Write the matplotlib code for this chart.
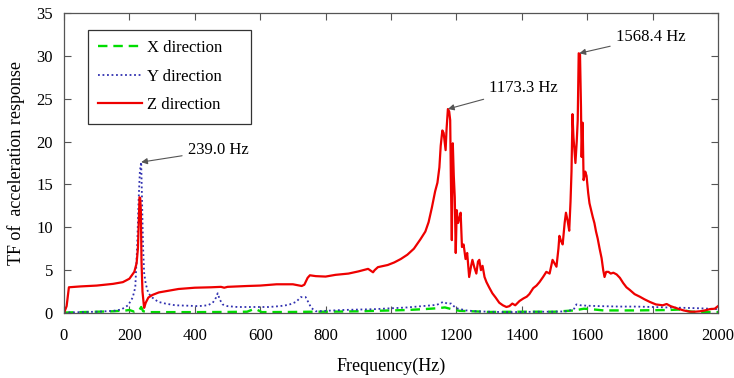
import matplotlib
matplotlib.use("Agg")
import matplotlib.pyplot as plt
from matplotlib.patches import Rectangle

# ---- data ----
z_freq = [0, 8, 15, 50, 100, 150, 180, 200, 215, 222, 226, 229, 231, 233, 235, 237, 240, 245, 250, 258,
          270, 290, 320, 350, 400, 450, 480, 490, 500, 560, 600, 650, 700, 727, 735, 745, 752, 770, 800, 830,
          870, 900, 930, 945, 950, 960, 990, 1010, 1030, 1050, 1070, 1090, 1105, 1115, 1125, 1135, 1142, 1148,
          1152, 1157, 1161, 1164, 1167, 1170, 1174, 1178, 1181, 1183, 1186, 1189, 1192, 1195, 1198, 1201, 1205,
          1209, 1213, 1217, 1222, 1228, 1233, 1239, 1245, 1249, 1255, 1261, 1266, 1270, 1275, 1280, 1286, 1292,
          1300, 1310, 1320, 1331, 1342, 1353, 1362, 1371, 1380, 1393, 1405, 1415, 1423, 1435, 1445, 1454, 1465,
          1475, 1485, 1494, 1500, 1506, 1512, 1515, 1520, 1525, 1531, 1535, 1540, 1545, 1549, 1552, 1555, 1558,
          1561, 1564, 1568, 1571, 1574, 1578, 1581, 1583, 1586, 1589, 1594, 1598, 1603, 1607, 1612, 1617, 1622,
          1627, 1632, 1638, 1644, 1649, 1653, 1658, 1665, 1672, 1680, 1690, 1700, 1710, 1720, 1730, 1745, 1761,
          1775, 1791, 1810, 1831, 1843, 1855, 1874, 1895, 1914, 1930, 1945, 1960, 1975, 1990, 2000]
z_val = [0.0, 0.8, 3.0, 3.1, 3.2, 3.4, 3.6, 4.0, 4.8, 5.8, 7.5, 11.0, 13.5, 13.4, 12.0, 6.0, 2.5, 0.6, 1.2, 1.8,
         2.1, 2.4, 2.6, 2.8, 2.95, 3.0, 3.05, 2.95, 3.05, 3.15, 3.2, 3.35, 3.35, 3.15, 3.3, 4.1, 4.4, 4.3, 4.25, 4.45,
         4.6, 4.85, 5.15, 4.75, 5.0, 5.35, 5.6, 5.9, 6.3, 6.8, 7.5, 8.6, 9.5, 10.6, 12.3, 14.2, 15.2, 17.0,
         19.5, 21.3, 21.0, 20.0, 19.0, 21.5, 23.8, 23.5, 22.5, 16.0, 8.5, 19.8, 16.0, 13.5, 7.0, 12.0, 10.5,
         11.0, 11.7, 7.7, 8.0, 6.3, 7.0, 4.2, 5.5, 6.2, 5.3, 4.6, 6.0, 6.2, 5.0, 5.5, 4.2, 3.6,
         3.0, 2.3, 1.8, 1.2, 0.9, 0.7, 0.8, 1.1, 0.9, 1.4, 1.7, 1.9, 2.2, 2.9, 3.2, 3.6, 4.2,
         4.8, 4.6, 6.2, 5.8, 5.4, 7.5, 9.0, 8.4, 8.0, 10.5, 11.7, 10.8, 9.6, 13.0, 16.5, 23.2, 20.5,
         19.0, 17.5, 20.0, 22.5, 30.3, 30.2, 24.0, 18.2, 22.2, 15.5, 16.5, 16.0, 14.0, 12.8, 12.0, 11.2, 10.5,
         9.5, 8.7, 7.5, 6.4, 5.0, 4.2, 4.8, 4.8, 4.6, 4.7, 4.5, 4.1, 3.5, 3.0, 2.7, 2.2, 1.9,
         1.6, 1.3, 1.0, 0.9, 1.05, 0.8, 0.55, 0.3, 0.15, 0.15, 0.2, 0.3, 0.45, 0.5, 0.8]

y_freq = [0, 50, 100, 150, 175, 196, 210, 218, 224, 228, 232, 236, 239, 242, 245, 250, 258, 270, 288, 310,
          340, 380, 411, 440, 455, 465, 470, 476, 485, 500, 530, 595, 626, 660, 687, 710, 724, 739, 748, 756,
          770, 800, 850, 900, 950, 1000, 1050, 1080, 1110, 1140, 1160, 1172, 1184, 1192, 1200, 1230, 1260, 1300,
          1350, 1400, 1450, 1500, 1540, 1560, 1567, 1580, 1600, 1640, 1700, 1750, 1800, 1843, 1900, 1945, 2000]
y_val = [0.05, 0.1, 0.15, 0.25, 0.4, 0.9, 1.8, 3.0, 8.0, 13.0, 16.5, 17.6, 12.5, 7.5, 4.7, 3.4, 2.3, 1.8, 1.3, 1.1,
         0.9, 0.85, 0.8, 0.9, 1.2, 1.8, 2.3, 1.6, 1.0, 0.8, 0.7, 0.7, 0.7, 0.8, 0.95, 1.3, 1.85, 1.85, 1.2, 0.6,
         0.2, 0.25, 0.35, 0.4, 0.45, 0.55, 0.65, 0.75, 0.85, 0.95, 1.3, 1.1, 1.1, 0.8, 0.55, 0.3, 0.2, 0.15,
         0.1, 0.12, 0.15, 0.15, 0.2, 0.5, 1.0, 0.9, 0.85, 0.8, 0.75, 0.75, 0.7, 0.65, 0.6, 0.55, 0.45]

x_freq = [0, 50, 100, 150, 190, 200, 215, 230, 236, 242, 260, 300, 400, 500, 560, 580, 592, 605, 700, 760,
          800, 900, 1000, 1050, 1100, 1140, 1165, 1175, 1190, 1210, 1250, 1300, 1400, 1500, 1560, 1590, 1610,
          1650, 1750, 1850, 1880, 1920, 2000]
x_val = [0.05, 0.1, 0.15, 0.2, 0.3, 0.35, 0.15, 0.3, 0.7, 0.2, 0.1, 0.1, 0.1, 0.12, 0.15, 0.45, 0.35, 0.1, 0.12, 0.15,
         0.15, 0.2, 0.3, 0.35, 0.45, 0.55, 0.65, 0.55, 0.4, 0.25, 0.2, 0.12, 0.15, 0.15, 0.3, 0.5, 0.45,
         0.3, 0.3, 0.35, 0.4, 0.15, 0.1]

series_labels = ["X direction", "Y direction", "Z direction"]
peak_labels = ["239.0 Hz", "1173.3 Hz", "1568.4 Hz"]
peak_xy = [(236, 17.6), (1174, 23.8), (1576, 30.3)]
x_ticks = list(range(0, 2001, 200))
y_ticks = list(range(0, 36, 5))

# ---- plot ----
plt.rcParams['font.family'] = ['Liberation Serif', 'DejaVu Serif']
fig = plt.figure(figsize=(7.34, 3.78), dpi=100)
ax = fig.add_axes([64/734, 1-313/378, (718-64)/734, 300/378])

ax.plot(x_freq, x_val, color='#00dd00', lw=1.7, ls=(0, (4, 2.5)), label=series_labels[0])
ax.plot(y_freq, y_val, color='#3030b0', lw=1.3, ls=(0, (1, 1.5)), label=series_labels[1])
ax.plot(z_freq, z_val, color='#ee0000', lw=1.6, label=series_labels[2])

ax.set_xlim(0, 2000)
ax.set_ylim(0, 35)
ax.set_xticks(x_ticks)
ax.set_yticks(y_ticks)
ax.tick_params(direction='in', top=True, right=True, labelsize=12, length=5,
               color='#555555', width=0.8)
ax.tick_params(axis='x', pad=11)
ax.tick_params(axis='y', pad=8)
for s in ax.spines.values():
    s.set_color('#555555')
    s.set_linewidth(0.9)

ax.set_xlabel("Frequency(Hz)", fontsize=13, labelpad=10)
ax.set_ylabel("TF of  acceleration response", fontsize=13, labelpad=8)

text_pos = [(378, 19.0), (1300, 26.2), (1687, 32.2)]
for lab, xy, tp in zip(peak_labels, peak_xy, text_pos):
    ax.annotate(lab, xy=xy, xytext=tp, fontsize=12, ha='left', va='center',
                arrowprops=dict(arrowstyle='-|>', color='#555555', lw=0.8,
                                mutation_scale=9, shrinkA=2, shrinkB=0))

leg = ax.legend(loc='upper left', bbox_to_anchor=(0.037, 0.943), fontsize=12,
                frameon=False, handlelength=2.6,
                labelspacing=0.75, borderpad=0.6, handletextpad=0.3, borderaxespad=0)
# legend box drawn separately (wider than the auto frame, as in the reference)
ax.add_patch(Rectangle((0.0367, 0.630), 0.2493, 0.313, transform=ax.transAxes,
                       facecolor='white', edgecolor='#333333', lw=0.9, zorder=4.5))
leg.set_zorder(5)

fig.savefig("out.png", dpi=100)
